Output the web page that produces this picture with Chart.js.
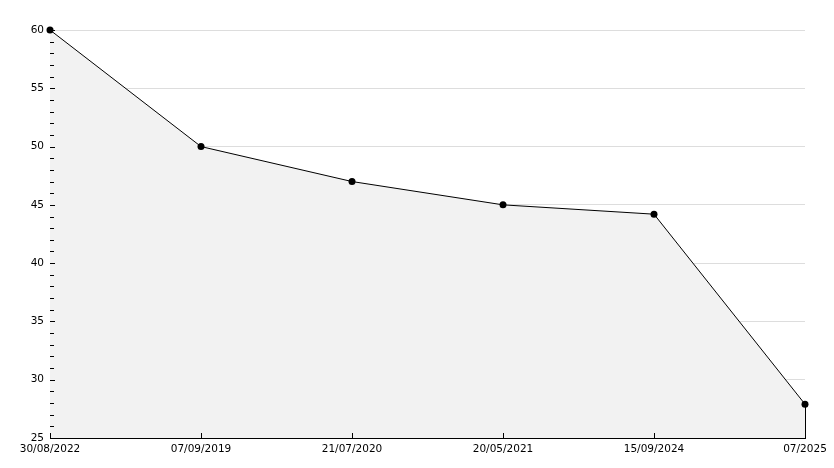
<!DOCTYPE html>
<html>
<head>
<meta charset="utf-8">
<script src="https://cdn.jsdelivr.net/npm/chart.js@4.4.0/dist/chart.umd.min.js"></script>
<style>
	html, body { margin: 0; padding: 0; background: #fff; }
	canvas { display: block; }
</style>
</head>
<body>
<canvas id="chart" width="834" height="468"></canvas>
<script>
const labels = ['30/08/2022', '07/09/2019', '21/07/2020', '20/05/2021', '15/09/2024', '07/2025'];
const values = [60, 50, 47, 45, 44.2, 27.9];
const yMin = 25;
const yMax = 60;

// inward ticks, minor ticks and the closing edge of the filled area
const axisDecor = {
	id: 'axisDecor',
	afterDatasetsDraw(chart) {
		const ctx = chart.ctx;
		const x = chart.scales.x;
		const y = chart.scales.y;
		const area = chart.chartArea;
		ctx.save();
		ctx.strokeStyle = '#000';
		ctx.lineWidth = 1;
		ctx.beginPath();
		for (let v = yMin; v <= yMax; v++) {
			const py = Math.round(y.getPixelForValue(v)) + 0.5;
			const len = v % 5 === 0 ? 5 : 4;
			ctx.moveTo(area.left, py);
			ctx.lineTo(area.left + len, py);
		}
		labels.forEach((l, i) => {
			const px = Math.round(x.getPixelForValue(i)) + 0.5;
			ctx.moveTo(px, area.bottom);
			ctx.lineTo(px, area.bottom - 5);
		});
		const last = chart.getDatasetMeta(0).data[values.length - 1];
		const lx = Math.round(last.x) + 0.5;
		ctx.moveTo(lx, last.y);
		ctx.lineTo(lx, area.bottom);
		ctx.stroke();
		ctx.restore();
	}
};

new Chart(document.getElementById('chart').getContext('2d'), {
	type: 'line',
	data: {
		labels: labels,
		datasets: [{
			data: values,
			borderColor: '#000',
			borderWidth: 1,
			backgroundColor: '#f2f2f2',
			fill: 'start',
			tension: 0,
			clip: false,
			pointRadius: 3.5,
			pointStyle: 'circle',
			pointBackgroundColor: '#000',
			pointBorderColor: '#000',
			pointBorderWidth: 0
		}]
	},
	options: {
		responsive: false,
		animation: false,
		layout: {
			padding: { top: 30, right: 29, left: 0, bottom: 0 }
		},
		plugins: {
			legend: { display: false },
			tooltip: { enabled: false }
		},
		scales: {
			x: {
				offset: false,
				grid: { display: false, drawTicks: false },
				border: { display: true, color: '#000', width: 1 },
				ticks: {
					color: '#000',
					font: { family: 'DejaVu Sans', size: 10.5 },
					padding: 5,
					maxRotation: 0,
					autoSkip: false
				},
				afterFit(scale) { scale.height = 30; }
			},
			y: {
				min: yMin,
				max: yMax,
				grid: { color: '#dddddd', drawTicks: false },
				border: { display: true, color: '#000', width: 1 },
				ticks: {
					stepSize: 5,
					color: '#000',
					font: { family: 'DejaVu Sans', size: 10.5 },
					padding: 6
				},
				afterFit(scale) { scale.width = 50; }
			}
		}
	},
	plugins: [axisDecor]
});
</script>
</body>
</html>
